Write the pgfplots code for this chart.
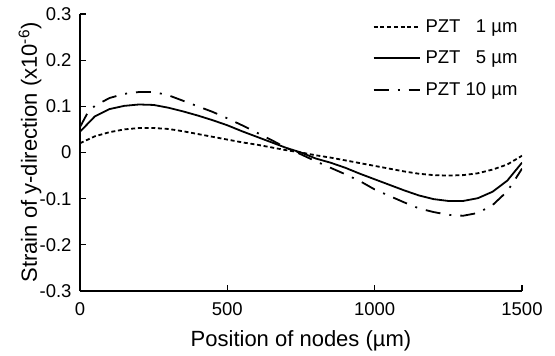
\documentclass[border=0pt]{standalone}
\usepackage{pgfplots}
\pgfplotsset{compat=1.18}
\usepackage{fontspec}
\setmainfont{Liberation Sans}

\pgfplotstableread{
x y
0 0.020
50 0.035
100 0.044
150 0.050
200 0.053
250 0.053
300 0.051
350 0.046
400 0.040
450 0.034
500 0.028
550 0.022
600 0.017
650 0.011
700 0.005
750 0.000
800 -0.006
850 -0.011
900 -0.017
950 -0.023
1000 -0.029
1050 -0.035
1100 -0.041
1150 -0.046
1200 -0.049
1250 -0.050
1300 -0.049
1350 -0.045
1400 -0.037
1450 -0.026
1500 -0.007
}\pztone

\pgfplotstableread{
x y
0 0.045
50 0.078
100 0.094
150 0.101
200 0.104
250 0.103
300 0.097
350 0.089
400 0.080
450 0.070
500 0.059
550 0.046
600 0.034
650 0.022
700 0.010
750 0.000
800 -0.013
850 -0.022
900 -0.033
950 -0.046
1000 -0.058
1050 -0.070
1100 -0.082
1150 -0.093
1200 -0.101
1250 -0.105
1300 -0.105
1350 -0.099
1400 -0.085
1450 -0.061
1500 -0.022
}\pztfive

\pgfplotstableread{
x y
0 0.055
25 0.085
50 0.101
100 0.118
150 0.127
200 0.131
250 0.131
300 0.124
350 0.112
400 0.100
450 0.088
500 0.074
550 0.059
600 0.043
650 0.027
700 0.010
750 -0.004
800 -0.019
850 -0.033
900 -0.047
950 -0.062
1000 -0.080
1050 -0.094
1100 -0.108
1150 -0.121
1200 -0.129
1250 -0.135
1300 -0.137
1350 -0.131
1400 -0.114
1450 -0.084
1480 -0.055
1500 -0.035
}\pztten

\begin{document}
\begin{tikzpicture}
\useasboundingbox (-80bp,-65bp) rectangle (475bp,291bp);
\begin{axis}[
  at={(0,0)}, anchor=south west,
  scale only axis, width=442bp, height=277bp,
  xmin=0, xmax=1500, ymin=-0.3, ymax=0.3,
  axis lines=left, axis line style={-, line width=1.1bp, black},
  tick align=inside, major tick length=6bp, tick style={line width=1.1bp, black},
  xtick={0,500,1000,1500}, xticklabels={0,500,1000,1500},
  ytick={-0.3,-0.2,-0.1,0,0.1,0.2,0.3},
  yticklabels={-0.3,-0.2,-0.1,0,0.1,0.2,0.3},
  ticklabel style={font=\fontsize{18.5bp}{22bp}\selectfont},
  xticklabel style={yshift=-8bp},
  yticklabel style={xshift=-5bp},
  xlabel={Position of nodes (µm)},
  ylabel={Strain of y-direction (x10\textsuperscript{-6})},
  label style={font=\fontsize{22bp}{26bp}\selectfont},
  xlabel style={at={([yshift=-55bp]axis description cs:0.5,0)}, anchor=base},
  ylabel style={at={([xshift=-35bp]axis description cs:0,0.5)}, anchor=south, rotate=0},
  legend style={draw=none, fill=none, at={(axis description cs:0.997,0.99)}, anchor=north east,
    font=\fontsize{18.5bp}{22bp}\selectfont, row sep=11bp, column sep=2bp, inner sep=0pt,
    nodes={font=\fontsize{18.5bp}{22bp}\selectfont, inner sep=3bp}},
  legend cell align=left,
  legend image code/.code={\draw[#1] (0bp,0bp) -- (46bp,0bp);},
]
\addplot[black, line width=1.8bp, dash pattern=on 4bp off 2.7bp] table[x=x,y=y] {\pztone};
\addlegendentry{PZT \phantom{1}1 µm}
\addplot[black, line width=1.8bp] table[x=x,y=y] {\pztfive};
\addlegendentry{PZT \phantom{1}5 µm}
\addplot[black, line width=1.8bp, dash pattern=on 15bp off 9bp on 2bp off 9bp] table[x=x,y=y] {\pztten};
\addlegendentry{PZT 10 µm}
\end{axis}
\end{tikzpicture}
\end{document}
